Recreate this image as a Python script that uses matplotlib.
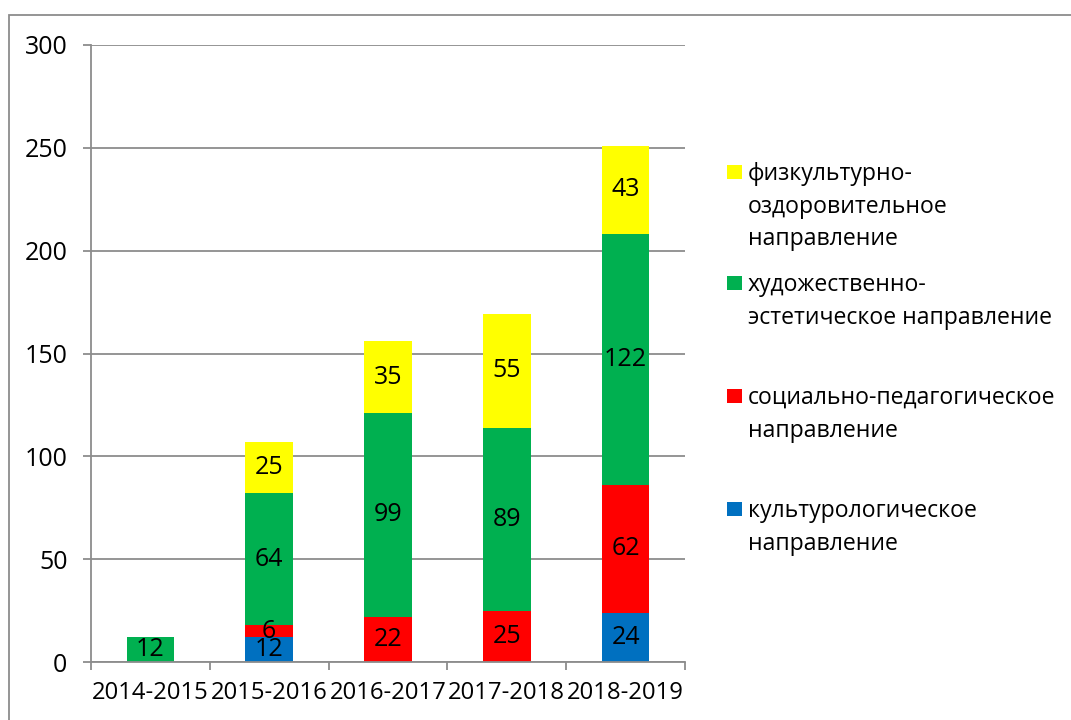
import matplotlib
matplotlib.use("Agg")
import matplotlib.pyplot as plt
from matplotlib.patches import Rectangle
import numpy as np

plt.rcParams['font.family'] = ['Open Sans', 'DejaVu Sans']

years = ["2014-2015", "2015-2016", "2016-2017", "2017-2018", "2018-2019"]

# stacked from bottom to top
series_names = [
    "культурологическое\nнаправление",
    "социально-педагогическое\nнаправление",
    "художественно-\nэстетическое направление",
    "физкультурно-\nоздоровительное\nнаправление",
]
kult = [0, 12, 0, 0, 24]
soc = [0, 6, 22, 25, 62]
hud = [12, 64, 99, 89, 122]
fiz = [0, 25, 35, 55, 43]
series_values = [kult, soc, hud, fiz]
colors = ["#0070C0", "#FF0000", "#00B050", "#FFFF00"]

grid_col = "#8C8C8C"

fig = plt.figure(figsize=(10.71, 7.2), dpi=100)
ax = fig.add_axes([91 / 1071, 58 / 720, 594 / 1071, 617 / 720])

x = np.arange(len(years))
bottom = np.zeros(len(years))
for vals, col in zip(series_values, colors):
    vals = np.array(vals)
    bars = ax.bar(x, vals, width=0.4, bottom=bottom, color=col, zorder=2)
    labels = [str(v) if v > 0 else "" for v in vals]
    ax.bar_label(bars, labels=labels, label_type="center", fontsize=18, color="black")
    bottom += vals

ax.set_xlim(-0.5, len(years) - 0.5)
ax.set_ylim(0, 300)
ax.set_yticks(np.arange(0, 301, 50))
ax.yaxis.grid(True, color=grid_col, linewidth=1.3)
ax.set_axisbelow(True)

ax.set_xticks(x)
ax.set_xticklabels(years)
ax.set_xticks(np.arange(-0.5, len(years), 1), minor=True)
ax.tick_params(axis="x", which="major", length=0, pad=14, labelsize=17.2)
ax.tick_params(axis="x", which="minor", length=6, width=1.3, color=grid_col, direction="out")
ax.tick_params(axis="y", length=6, width=1.3, color=grid_col, pad=11, labelsize=18)

for s in ["top", "right"]:
    ax.spines[s].set_visible(False)
for s in ["left", "bottom"]:
    ax.spines[s].set_color(grid_col)
    ax.spines[s].set_linewidth(1.3)

# legend, top entry first
leg_tops = [172, 283, 396, 509]
for name, col, ytop in zip(series_names[::-1], colors[::-1], leg_tops):
    fig.add_artist(Rectangle((727 / 1071, 1 - (ytop + 7) / 720), 15 / 1071, 14 / 720,
                             transform=fig.transFigure, facecolor=col, edgecolor="none"))
    fig.text(748 / 1071, 1 - (ytop - 10) / 720, name, fontsize=16.6, va="top", ha="left",
             linespacing=1.48)

# outer frame of the chart area
fig.add_artist(Rectangle((9 / 1071, -1), 2, 2 - 15 / 720, transform=fig.transFigure,
                         fill=False, edgecolor="#8C8C8C", linewidth=1.3, clip_on=False))

fig.savefig("out.png", dpi=100)
